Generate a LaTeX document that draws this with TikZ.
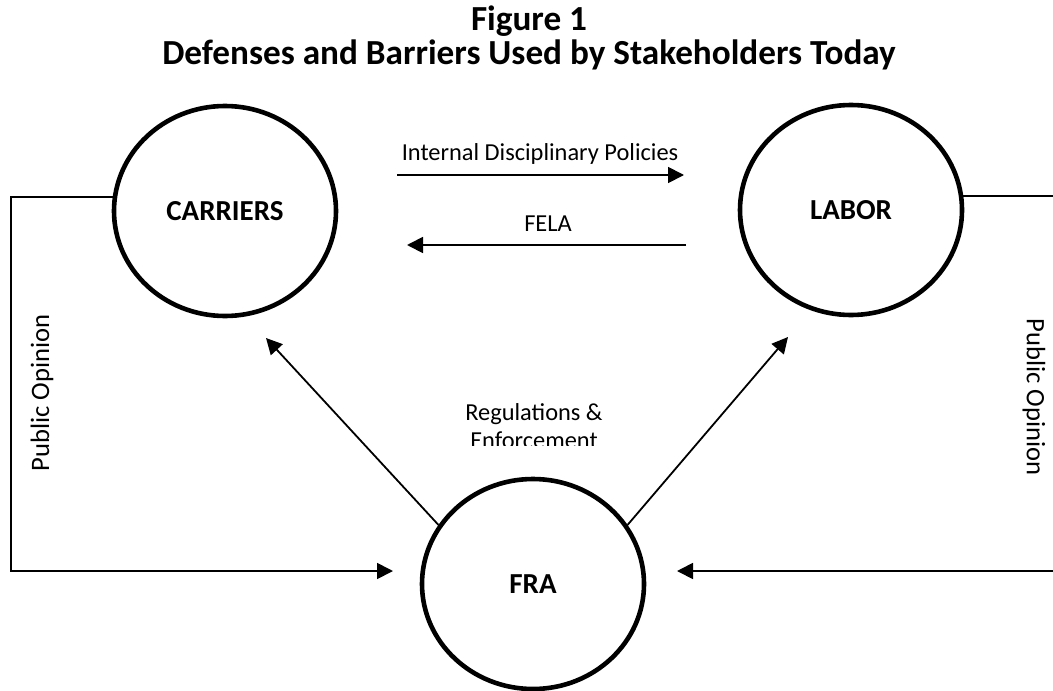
\documentclass[tikz,border=0pt]{standalone}
\usepackage{fontspec}
\setmainfont{Carlito}
\usetikzlibrary{shapes.geometric,arrows.meta}
\begin{document}
\begin{tikzpicture}[x=0.5pt,y=-0.5pt,
  ell/.style={ellipse,draw,line width=2.3pt,minimum width=111pt,minimum height=105pt,inner sep=0pt,font=\fontsize{14.5}{16}\selectfont\bfseries},
  conn/.style={line width=0.9pt},
  arr/.style={conn,-{Triangle[length=8pt,width=8pt]}},
  txt/.style={font=\fontsize{12.2}{14}\selectfont,inner sep=0pt},
  side/.style={font=\fontsize{13.3}{15}\selectfont,inner sep=0pt},
  ttl/.style={font=\fontsize{17.6}{20}\selectfont\bfseries,inner sep=0pt,anchor=base}]
\useasboundingbox (0,0) rectangle (1053,690);
\clip (0,0) rectangle (1053,690);
% title
\node[ttl] (t1) at (529,31) {Figure 1};
\node[ttl] (t2) at (529,65) {Defenses and Barriers Used by Stakeholders Today};
% stakeholders
\node[ell] (car) at (225,211) {CARRIERS};
\node[ell] (lab) at (851,210) {LABOR};
\node[ell] (fra) at (533,584) {FRA};
% top arrows
\coordinate (a1s) at (397,175);
\coordinate (a1e) at (684,175);
\coordinate (a2s) at (686,245);
\coordinate (a2e) at (407,245);
\draw[arr] (a1s) -- (a1e);
\draw[arr] (a2s) -- (a2e);
\node[txt] (idp) at (540,154) {Internal Disciplinary Policies};
\node[txt] (fela) at (548,224) {FELA};
% public opinion, left
\coordinate (lb) at (11,571);
\coordinate (la) at (393,571);
\draw[arr] (car.173) -| (lb) -- (la);
\node[side,rotate=90] (po1) at (42,393) {Public Opinion};
% public opinion, right
\coordinate (rt) at (1053,198);
\coordinate (rb) at (1053,571);
\coordinate (ra) at (677,571);
\draw[conn] (lab.7) -- (lab.7 -| rt);
\draw[arr] (rb) -- (ra);
\node[side,rotate=-90] (po2) at (1034,397) {Public Opinion};
% regulations
\coordinate (dl) at (266,338);
\coordinate (dr) at (788,337);
\draw[arr] (fra.148) -- (dl);
\draw[arr] (fra.32) -- (dr);
\begin{scope}
\clip (400,380) rectangle (660,445);
\node[txt,align=center] (reg) at (534,426) {Regulations \&\\Enforcement};
\end{scope}
\end{tikzpicture}
\end{document}
